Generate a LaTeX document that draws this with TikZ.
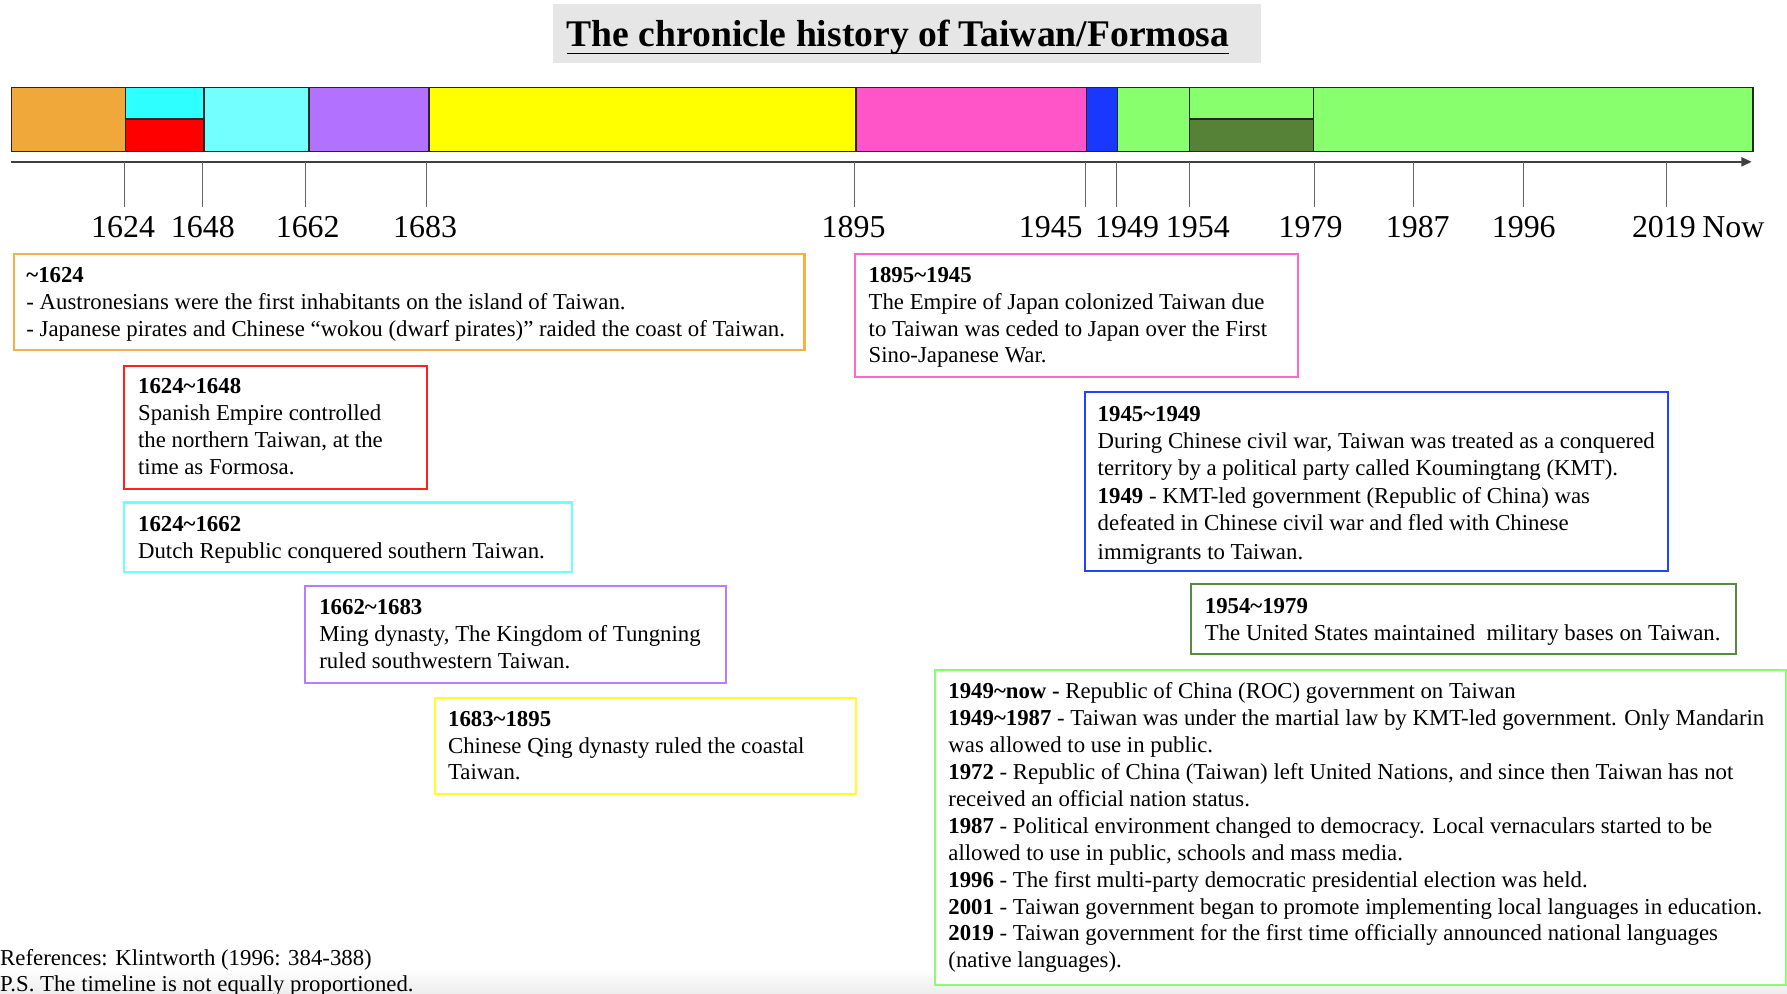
\documentclass[tikz,border=0pt]{standalone}
\usepackage{fontspec}
\setmainfont{Liberation Serif}
\usetikzlibrary{arrows.meta,calc}

% period colours of the bar
\definecolor{cOrange}{HTML}{F0A83A}
\definecolor{cCyan}{HTML}{2EFFFF}
\definecolor{cRed}{HTML}{FF0000}
\definecolor{cLightCyan}{HTML}{73FFFF}
\definecolor{cPurple}{HTML}{B272FF}
\definecolor{cYellow}{HTML}{FFFF00}
\definecolor{cPink}{HTML}{FF55C8}
\definecolor{cBlue}{HTML}{1937FF}
\definecolor{cGreen}{HTML}{88FF6C}
\definecolor{cDarkGreen}{HTML}{558237}
% frame colours of the event boxes
\definecolor{bOrange}{HTML}{F5B04B}
\definecolor{bRed}{HTML}{FF2020}
\definecolor{bCyan}{HTML}{70FFFF}
\definecolor{bPurple}{HTML}{B87CFF}
\definecolor{bYellow}{HTML}{FFFF20}
\definecolor{bPink}{HTML}{FF66D0}
\definecolor{bBlue}{HTML}{2244FF}
\definecolor{bDarkGreen}{HTML}{5A8A40}
\definecolor{bGreen}{HTML}{88FF6C}
\definecolor{titlegray}{HTML}{E6E6E6}

\newcommand{\evstrut}{\rule{0pt}{16pt}}
\newcommand{\tl}{\textasciitilde}

\begin{document}
\begin{tikzpicture}[x=1pt,y=-1pt,
  seg/.style={draw=black!85, line width=1.2pt},
  evbox/.style={draw=#1, line width=1.8pt, fill=white, inner sep=0pt, anchor=north west},
  evtext/.style={anchor=north west, align=left, inner sep=0pt,
    font=\fontsize{20}{23.6}\selectfont},
  yearlab/.style={anchor=base, inner sep=0pt, font=\fontsize{28}{30}\selectfont},
  tickline/.style={draw=black!60, line width=0.8pt},
  foot/.style={anchor=base west, inner sep=0pt, font=\fontsize{20}{23.6}\selectfont}]

\useasboundingbox (0,0) rectangle (1568,872);
\fill[white] (0,0) rectangle (1568,872);
\shade[top color=white, bottom color=black!7] (0,850) rectangle (1568,872);

% title
\node[fill=titlegray, minimum width=621pt, minimum height=52pt, inner sep=0pt,
      anchor=north west] (titlebox) at (485,3) {};
\node[anchor=base, inner sep=0pt, font=\fontsize{33}{36}\selectfont\bfseries]
  (title) at (788,41) {The chronicle history of Taiwan/Formosa};
\draw[line width=1.6pt] ($(title.base west)+(0,6)$) -- ($(title.base east)+(0,6)$);

% the period bar
\filldraw[seg, fill=cOrange]    (10,77)    rectangle (110,133);
\filldraw[seg, fill=cCyan]      (110,77)   rectangle (179,104.5);
\filldraw[seg, fill=cRed]       (110,104.5) rectangle (179,133);
\filldraw[seg, fill=cLightCyan] (179,77)   rectangle (271,133);
\filldraw[seg, fill=cPurple]    (271,77)   rectangle (376.5,133);
\filldraw[seg, fill=cYellow]    (376.5,77) rectangle (751,133);
\filldraw[seg, fill=cPink]      (751,77)   rectangle (953.5,133);
\filldraw[seg, fill=cBlue]      (953.5,77) rectangle (980.5,133);
\filldraw[seg, fill=cGreen]     (980.5,77) rectangle (1043.5,133);
\filldraw[seg, fill=cGreen]     (1043.5,77) rectangle (1152.5,104.5);
\filldraw[seg, fill=cDarkGreen] (1043.5,104.5) rectangle (1152.5,133);
\filldraw[seg, fill=cGreen]     (1152.5,77) rectangle (1538,133);
\draw[seg] (10,77) rectangle (1538,133);

% time axis
\draw[black!75, line width=1.4pt, -{Triangle[length=9pt,width=8pt]}] (10,142) -- (1537,142);
\foreach \x in {109,178,268,374,750,952,980,1044,1153,1240,1337,1462}
  \draw[tickline] (\x,142) -- (\x,182);

\node[yearlab] (y1624) at (108,208) {1624};
\node[yearlab] (y1648) at (178,208) {1648};
\node[yearlab] (y1662) at (270,208) {1662};
\node[yearlab] (y1683) at (373,208) {1683};
\node[yearlab] (y1895) at (749,208) {1895};
\node[yearlab] (y1945) at (922,208) {1945};
\node[yearlab] (y1949) at (989,208) {1949};
\node[yearlab] (y1954) at (1051,208) {1954};
\node[yearlab] (y1979) at (1150,208) {1979};
\node[yearlab] (y1987) at (1244,208) {1987};
\node[yearlab] (y1996) at (1337,208) {1996};
\node[yearlab] (y2019) at (1460,208) {2019};
\node[yearlab] (ynow)  at (1521,208) {Now};

% event boxes
\node[evbox=bOrange, minimum width=694pt, minimum height=84pt] (b1) at (11,222) {};
\node[evtext] (t1) at (23,232) {\evstrut\textbf{\tl1624}\\
- Austronesians were the first inhabitants on the island of Taiwan.\\
- Japanese pirates and Chinese “wokou (dwarf pirates)” raided the coast of Taiwan.};

\node[evbox=bRed, minimum width=266pt, minimum height=108pt] (b2) at (108,320) {};
\node[evtext] (t2) at (121,329.3) {\evstrut\textbf{1624\tl1648}\\
Spanish Empire controlled\\
the northern Taiwan, at the\\
time as Formosa.};

\node[evbox=bCyan, minimum width=393pt, minimum height=61pt] (b3) at (108,440) {};
\node[evtext] (t3) at (121,450.4) {\evstrut\textbf{1624\tl1662}\\
Dutch Republic conquered southern Taiwan.};

\node[evbox=bPurple, minimum width=369pt, minimum height=85pt] (b4) at (267,513) {};
\node[evtext] (t4) at (280,523.3) {\evstrut\textbf{1662\tl1683}\\
Ming dynasty, The Kingdom of Tungning\\
ruled southwestern Taiwan.};

\node[evbox=bYellow, minimum width=369pt, minimum height=84.5pt] (b5) at (381,611.5) {};
\node[evtext] (t5) at (393,621) {\evstrut\textbf{1683\tl1895}\\
Chinese Qing dynasty ruled the coastal\\
Taiwan.};

\node[evbox=bPink, minimum width=389pt, minimum height=108pt] (b6) at (749,222) {};
\node[evtext] (t6) at (762,231.5) {\evstrut\textbf{1895\tl1945}\\
The Empire of Japan colonized Taiwan due\\
to Taiwan was ceded to Japan over the First\\
Sino-Japanese War.};

\node[evbox=bBlue, minimum width=512pt, minimum height=157pt] (b7) at (951,343) {};
\node[evtext] (t7) at (963,353.5) {\evstrut\textbf{1945\tl1949}\\
During Chinese civil war, Taiwan was treated as a conquered\\
territory by a political party called Koumingtang (KMT).\\[1.6pt]
\textbf{1949} - KMT-led government (Republic of China) was\\
defeated in Chinese civil war and fled with Chinese\\[1.6pt]
immigrants to Taiwan.};

\node[evbox=bDarkGreen, minimum width=478pt, minimum height=61pt] (b8) at (1044,511.7) {};
\node[evtext] (t8) at (1057,522.5) {\evstrut\textbf{1954\tl1979}\\
The United States maintained\ \ military bases on Taiwan.};

\node[evbox=bGreen, minimum width=746.5pt, minimum height=276pt] (b9) at (819.5,587) {};
\node[evtext] (t9) at (832,597) {\evstrut\textbf{1949\tl now -} Republic of China (ROC) government on Taiwan\\
\textbf{1949\tl1987} - Taiwan was under the martial law by KMT-led government. Only Mandarin\\
was allowed to use in public.\\
\textbf{1972} - Republic of China (Taiwan) left United Nations, and since then Taiwan has not\\
received an official nation status.\\
\textbf{1987} - Political environment changed to democracy. Local vernaculars started to be\\
allowed to use in public, schools and mass media.\\
\textbf{1996} - The first multi-party democratic presidential election was held.\\
\textbf{2001} - Taiwan government began to promote implementing local languages in education.\\
\textbf{2019} - Taiwan government for the first time officially announced national languages\\
(native languages).};

% footnotes
\node[foot] (ref) at (0,847) {References: Klintworth (1996: 384-388)};
\node[foot] (ps) at (0,870) {P.S. The timeline is not equally proportioned.};
\end{tikzpicture}
\end{document}
